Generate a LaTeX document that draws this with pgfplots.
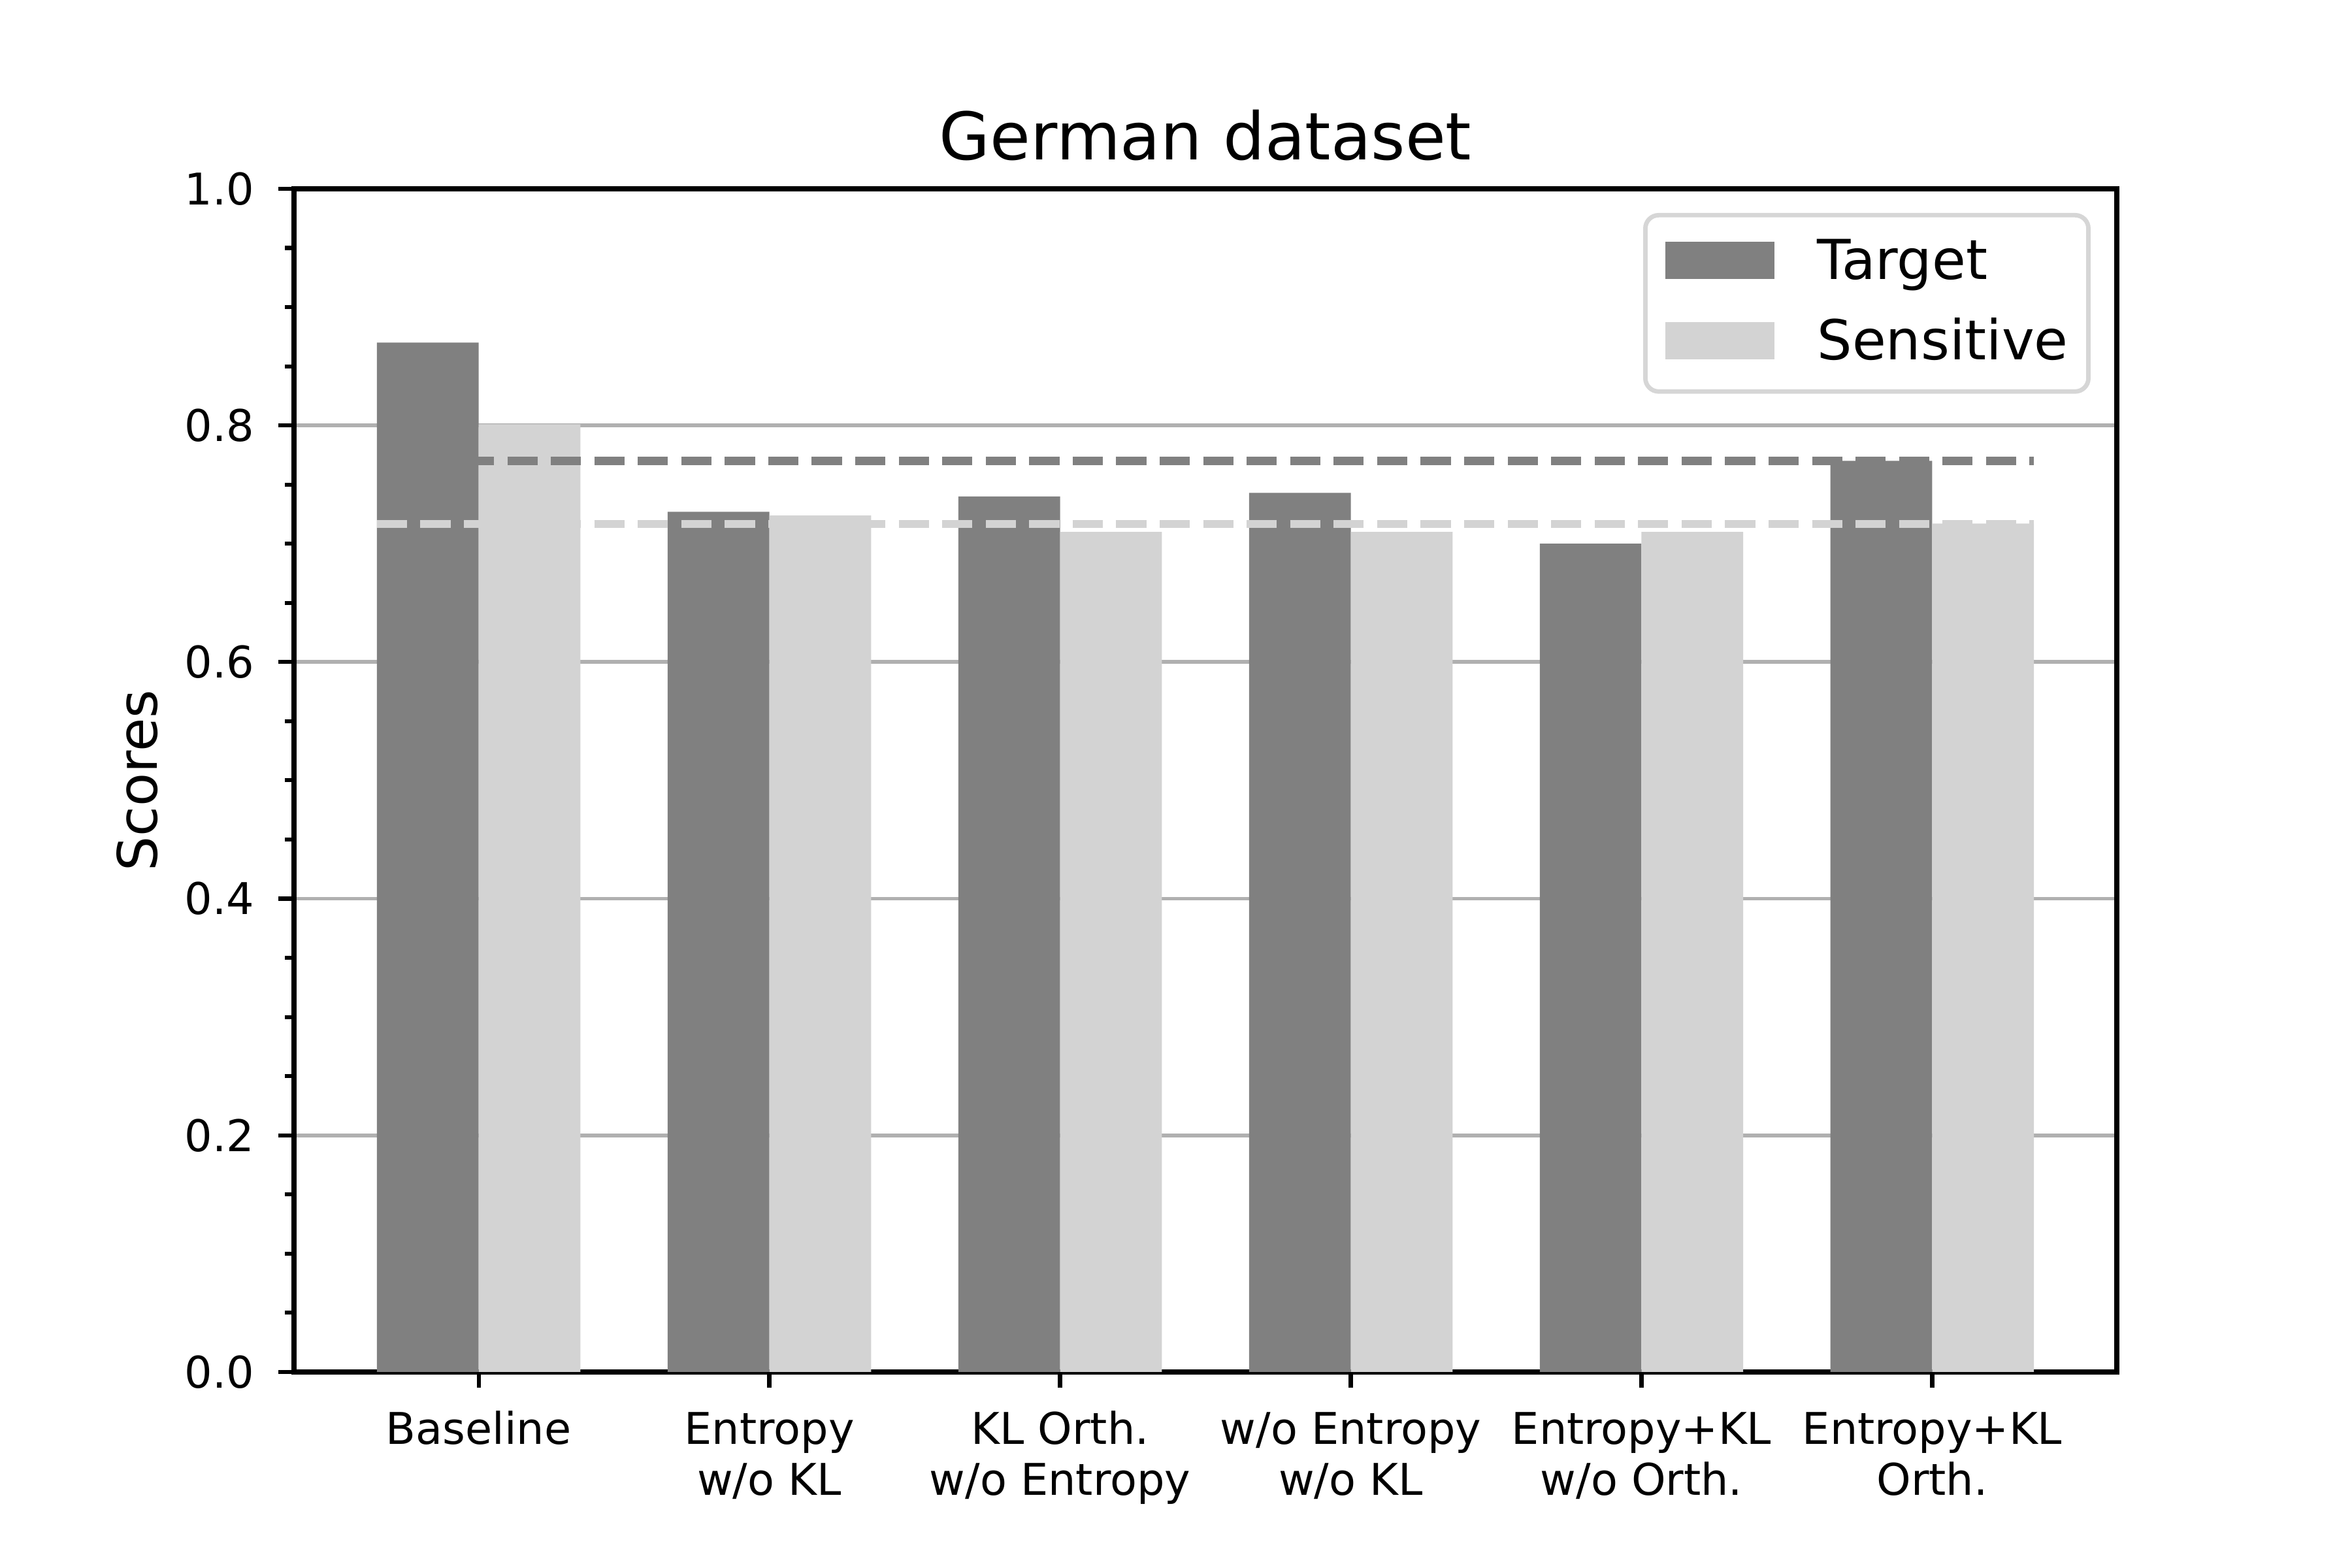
\documentclass[border=0pt]{standalone}
\usepackage{fontspec}
\setmainfont{DejaVu Sans}
\usepackage{pgfplots}
\pgfplotsset{compat=1.18}
\definecolor{barDark}{HTML}{808080}
\definecolor{barLight}{HTML}{D3D3D3}
\definecolor{gridgray}{HTML}{B0B0B0}
\definecolor{legframe}{HTML}{D6D6D6}
\newcommand\hs{\rule{0pt}{7.9pt}}
\begin{document}
\begin{tikzpicture}
\useasboundingbox (0,0) rectangle (530pt,353.33pt);
\begin{axis}[
  at={(66.25pt,44.17pt)}, anchor=south west,
  scale only axis, width=410.75pt, height=266.62pt,
  xmin=-0.635, xmax=5.635, ymin=0, ymax=1,
  xtick={0,1,2,3,4,5},
  xticklabels={{\hs Baseline},{\hs Entropy\\w/o KL},{\hs KL Orth.\\w/o Entropy},{\hs w/o Entropy\\w/o KL},{\hs Entropy+KL\\w/o Orth.},{\hs Entropy+KL\\Orth.}},
  ytick={0,0.2,0.4,0.6,0.8,1},
  minor y tick num=3,
  tick pos=left, tick align=outside,
  major tick length=3.5pt, minor tick length=2pt,
  every tick/.append style={black, line width=0.9pt},
  axis line style={line width=1.1pt},
  ymajorgrids, grid style={gridgray, line width=0.85pt},
  scaled y ticks=false,
  /pgf/number format/fixed, /pgf/number format/fixed zerofill,
  /pgf/number format/precision=1, /pgf/number format/assume math mode=true,
  tick label style={font=\fontsize{9.85}{11.4}\selectfont},
  xticklabel style={align=center, anchor=north, inner sep=0pt, yshift=-4.7pt},
  yticklabel style={anchor=east, inner sep=0pt, xshift=-5.3pt},
  title={German dataset},
  title style={font=\fontsize{14.8}{18}\selectfont, at={(axis description cs:0.5,1)}, anchor=base, yshift=0.5pt, inner sep=0pt},
  ylabel={Scores},
  ylabel style={font=\fontsize{12.3}{14.8}\selectfont, at={(axis description cs:-0.0752,0.5)}, anchor=base, inner sep=0pt},
  legend style={at={(rel axis cs:1,1)}, anchor=north east, xshift=-5.9pt, yshift=-5.45pt,
    draw=legframe, line width=1pt, rounded corners=3pt, fill=white,
    inner xsep=4.55pt, inner ysep=5.4pt, font=\fontsize{12.4}{14.9}\selectfont,
    row sep={18.1pt,between origins}, column sep=9.6pt,
    cells={anchor=base west},
    nodes={inner sep=0pt, text depth=1.8pt}},
]
\addplot[ybar, bar width=0.35, bar shift=-0.175, fill=barDark, draw=none,
  legend image code/.code={\fill[barDark,sharp corners] (0pt,0pt) rectangle (24.6pt,8.5pt);}]
  coordinates {(0,0.870) (1,0.727) (2,0.740) (3,0.743) (4,0.700) (5,0.770)};
\addlegendentry{Target}
\addplot[ybar, bar width=0.35, bar shift=0.175, fill=barLight, draw=none,
  legend image code/.code={\fill[barLight,sharp corners] (0pt,0pt) rectangle (24.6pt,8.5pt);}]
  coordinates {(0,0.801) (1,0.724) (2,0.710) (3,0.710) (4,0.710) (5,0.717)};
\addlegendentry{Sensitive}
\addplot[forget plot, barDark, line width=1.8pt, dash pattern=on 6.8pt off 3pt]
  coordinates {(-0.35,0.770) (5.35,0.770)};
\addplot[forget plot, barLight, line width=1.8pt, dash pattern=on 6.8pt off 3pt]
  coordinates {(-0.35,0.7168) (5.35,0.7168)};
\end{axis}
\end{tikzpicture}
\end{document}
